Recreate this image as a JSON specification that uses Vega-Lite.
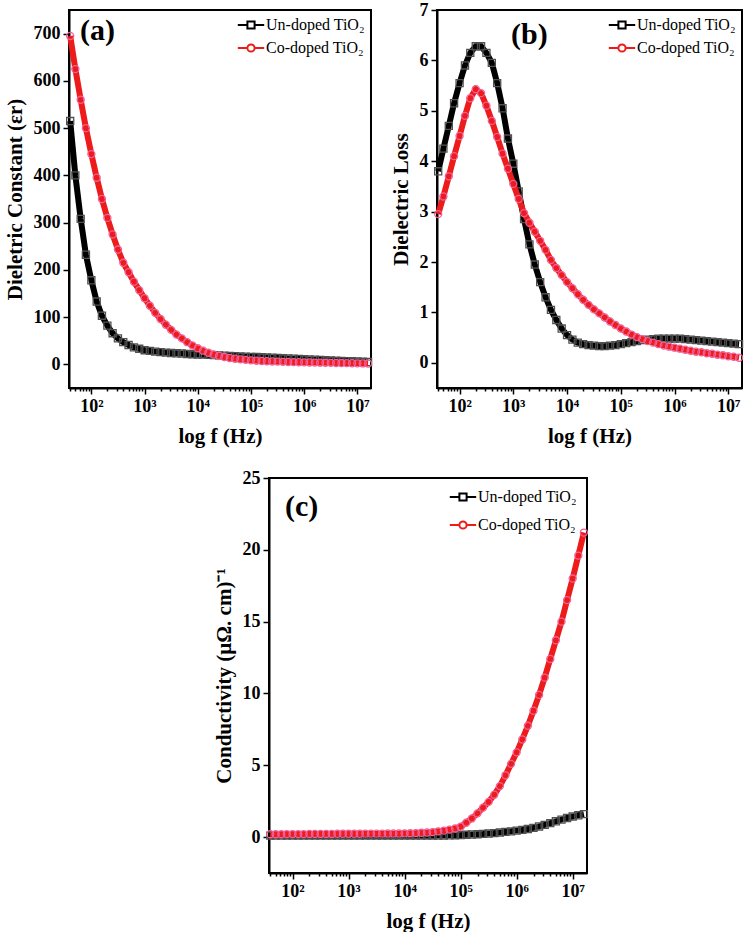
{
  "$schema": "https://vega.github.io/schema/vega-lite/v6.json",
  "padding": {"left": 3, "top": 0, "right": 0, "bottom": 0},
  "config": {
    "font": "Liberation Serif",
    "view": {"stroke": "black", "strokeWidth": 2},
    "axis": {"labelFont": "Liberation Serif", "labelFontSize": 18, "labelFontWeight": "bold", "labelColor": "black", "titleFont": "Liberation Serif", "titleFontSize": 21, "titleFontWeight": "bold", "titleColor": "black", "domainColor": "black", "domainWidth": 2, "tickColor": "black", "tickWidth": 1.5, "grid": false, "labelPadding": 3},
    "axisX": {"titlePadding": 10},
    "axisY": {"titlePadding": 8},
    "legend": {"orient": "top-right", "offset": 6, "padding": 0, "labelFont": "Liberation Serif", "labelFontSize": 16, "labelColor": "black", "symbolSize": 256, "symbolStrokeWidth": 2, "labelOffset": 6, "rowPadding": 6},
    "title": {"font": "Liberation Serif", "fontWeight": "bold", "color": "black", "fontSize": 30, "anchor": "start", "frame": "group", "baseline": "alphabetic"}
  },
  "datasets": {
    "d": [
      {"f": 40, "au": 515, "ac": 695, "bu": 3.80, "bc": 2.95, "cu": 0.10, "cc": 0.20},
      {"f": 50, "au": 400, "ac": 625, "bu": 4.25, "bc": 3.30, "cu": 0.10, "cc": 0.20},
      {"f": 63, "au": 308, "ac": 560, "bu": 4.70, "bc": 3.70, "cu": 0.10, "cc": 0.20},
      {"f": 79, "au": 232, "ac": 500, "bu": 5.15, "bc": 4.10, "cu": 0.10, "cc": 0.21},
      {"f": 100, "au": 178, "ac": 445, "bu": 5.55, "bc": 4.50, "cu": 0.10, "cc": 0.21},
      {"f": 126, "au": 133, "ac": 395, "bu": 5.90, "bc": 4.90, "cu": 0.10, "cc": 0.21},
      {"f": 158, "au": 103, "ac": 350, "bu": 6.15, "bc": 5.25, "cu": 0.10, "cc": 0.21},
      {"f": 200, "au": 82, "ac": 310, "bu": 6.28, "bc": 5.43, "cu": 0.10, "cc": 0.22},
      {"f": 251, "au": 66, "ac": 275, "bu": 6.28, "bc": 5.35, "cu": 0.10, "cc": 0.22},
      {"f": 316, "au": 55, "ac": 243, "bu": 6.15, "bc": 5.10, "cu": 0.10, "cc": 0.22},
      {"f": 398, "au": 47, "ac": 215, "bu": 5.95, "bc": 4.80, "cu": 0.10, "cc": 0.22},
      {"f": 501, "au": 41, "ac": 195, "bu": 5.55, "bc": 4.48, "cu": 0.10, "cc": 0.22},
      {"f": 631, "au": 36, "ac": 175, "bu": 5.05, "bc": 4.15, "cu": 0.10, "cc": 0.23},
      {"f": 794, "au": 33, "ac": 157, "bu": 4.45, "bc": 3.85, "cu": 0.10, "cc": 0.23},
      {"f": 1000, "au": 30, "ac": 140, "bu": 3.95, "bc": 3.55, "cu": 0.10, "cc": 0.23},
      {"f": 1259, "au": 28.5, "ac": 124, "bu": 3.40, "bc": 3.25, "cu": 0.10, "cc": 0.23},
      {"f": 1585, "au": 27, "ac": 109, "bu": 2.85, "bc": 2.97, "cu": 0.10, "cc": 0.23},
      {"f": 1995, "au": 26, "ac": 96, "bu": 2.35, "bc": 2.78, "cu": 0.10, "cc": 0.24},
      {"f": 2512, "au": 25, "ac": 84, "bu": 1.95, "bc": 2.60, "cu": 0.10, "cc": 0.24},
      {"f": 3162, "au": 24, "ac": 73, "bu": 1.60, "bc": 2.42, "cu": 0.10, "cc": 0.24},
      {"f": 3981, "au": 23.5, "ac": 63, "bu": 1.30, "bc": 2.24, "cu": 0.10, "cc": 0.24},
      {"f": 5012, "au": 23, "ac": 55, "bu": 1.05, "bc": 2.04, "cu": 0.10, "cc": 0.25},
      {"f": 6310, "au": 22, "ac": 47, "bu": 0.85, "bc": 1.88, "cu": 0.10, "cc": 0.25},
      {"f": 7943, "au": 21.5, "ac": 40, "bu": 0.68, "bc": 1.74, "cu": 0.10, "cc": 0.25},
      {"f": 10000, "au": 21, "ac": 34, "bu": 0.55, "bc": 1.60, "cu": 0.10, "cc": 0.26},
      {"f": 12589, "au": 20.5, "ac": 29, "bu": 0.46, "bc": 1.48, "cu": 0.10, "cc": 0.27},
      {"f": 15849, "au": 20, "ac": 24.5, "bu": 0.40, "bc": 1.36, "cu": 0.10, "cc": 0.28},
      {"f": 19953, "au": 19.5, "ac": 21, "bu": 0.37, "bc": 1.25, "cu": 0.10, "cc": 0.30},
      {"f": 25119, "au": 19, "ac": 18, "bu": 0.35, "bc": 1.15, "cu": 0.10, "cc": 0.32},
      {"f": 31623, "au": 18.5, "ac": 15.5, "bu": 0.34, "bc": 1.06, "cu": 0.10, "cc": 0.35},
      {"f": 39811, "au": 18, "ac": 13.5, "bu": 0.33, "bc": 0.98, "cu": 0.11, "cc": 0.40},
      {"f": 50119, "au": 17.5, "ac": 12, "bu": 0.33, "bc": 0.90, "cu": 0.11, "cc": 0.45},
      {"f": 63096, "au": 17, "ac": 10.5, "bu": 0.34, "bc": 0.82, "cu": 0.12, "cc": 0.52},
      {"f": 79433, "au": 16.5, "ac": 9.5, "bu": 0.35, "bc": 0.75, "cu": 0.13, "cc": 0.60},
      {"f": 100000, "au": 16, "ac": 8.5, "bu": 0.37, "bc": 0.68, "cu": 0.14, "cc": 0.72},
      {"f": 125893, "au": 15.5, "ac": 7.8, "bu": 0.39, "bc": 0.62, "cu": 0.16, "cc": 1.00},
      {"f": 158489, "au": 15, "ac": 7.2, "bu": 0.41, "bc": 0.56, "cu": 0.18, "cc": 1.30},
      {"f": 199526, "au": 14.5, "ac": 6.7, "bu": 0.43, "bc": 0.51, "cu": 0.20, "cc": 1.65},
      {"f": 251189, "au": 14, "ac": 6.2, "bu": 0.45, "bc": 0.47, "cu": 0.22, "cc": 2.05},
      {"f": 316228, "au": 13.5, "ac": 5.8, "bu": 0.46, "bc": 0.43, "cu": 0.25, "cc": 2.45},
      {"f": 398107, "au": 13, "ac": 5.4, "bu": 0.47, "bc": 0.40, "cu": 0.28, "cc": 2.95},
      {"f": 501187, "au": 12.5, "ac": 5.1, "bu": 0.48, "bc": 0.37, "cu": 0.32, "cc": 3.55},
      {"f": 630957, "au": 12, "ac": 4.8, "bu": 0.48, "bc": 0.34, "cu": 0.36, "cc": 4.30},
      {"f": 794328, "au": 11.5, "ac": 4.5, "bu": 0.48, "bc": 0.32, "cu": 0.40, "cc": 5.10},
      {"f": 1000000, "au": 11, "ac": 4.3, "bu": 0.48, "bc": 0.30, "cu": 0.45, "cc": 5.90},
      {"f": 1258925, "au": 10.5, "ac": 4.0, "bu": 0.48, "bc": 0.28, "cu": 0.50, "cc": 6.80},
      {"f": 1584893, "au": 10, "ac": 3.8, "bu": 0.47, "bc": 0.26, "cu": 0.56, "cc": 7.75},
      {"f": 1995262, "au": 9.5, "ac": 3.6, "bu": 0.46, "bc": 0.24, "cu": 0.64, "cc": 8.80},
      {"f": 2511886, "au": 9, "ac": 3.4, "bu": 0.45, "bc": 0.22, "cu": 0.74, "cc": 9.90},
      {"f": 3162278, "au": 8.5, "ac": 3.2, "bu": 0.44, "bc": 0.21, "cu": 0.85, "cc": 11.1},
      {"f": 3981072, "au": 8, "ac": 3.0, "bu": 0.43, "bc": 0.19, "cu": 0.97, "cc": 12.4},
      {"f": 5011872, "au": 7.5, "ac": 2.8, "bu": 0.42, "bc": 0.18, "cu": 1.10, "cc": 13.7},
      {"f": 6309573, "au": 7, "ac": 2.6, "bu": 0.41, "bc": 0.16, "cu": 1.22, "cc": 15.0},
      {"f": 7943282, "au": 6.5, "ac": 2.4, "bu": 0.40, "bc": 0.15, "cu": 1.33, "cc": 16.5},
      {"f": 10000000, "au": 6, "ac": 2.2, "bu": 0.39, "bc": 0.13, "cu": 1.43, "cc": 18.0},
      {"f": 12589254, "au": 5.5, "ac": 2.0, "bu": 0.38, "bc": 0.12, "cu": 1.52, "cc": 19.6},
      {"f": 15848932, "au": 5, "ac": 1.8, "bu": 0.37, "bc": 0.10, "cu": 1.60, "cc": 21.2}
    ]
  },
  "spacing": 21,
  "resolve": {"scale": {"color": "independent"}, "legend": {"color": "independent"}},
  "vconcat": [
    {
      "bounds": "flush",
      "spacing": 66,
      "resolve": {"scale": {"color": "independent"}, "legend": {"color": "independent"}},
      "hconcat": [
        {
          "width": 302, "height": 378,
          "title": {"text": "(a)", "dx": 11, "offset": -36},
          "data": {"name": "d"},
          "encoding": {
            "x": {"field": "f", "type": "quantitative", "title": "log f (Hz)",
              "scale": {"type": "log", "domain": [38, 18000000], "nice": false},
              "axis": {"values": [40,50,60,70,80,90,100,200,300,400,500,600,700,800,900,1000,2000,3000,4000,5000,6000,7000,8000,9000,10000,20000,30000,40000,50000,60000,70000,80000,90000,100000,200000,300000,400000,500000,600000,700000,800000,900000,1000000,2000000,3000000,4000000,5000000,6000000,7000000,8000000,9000000,10000000],
                "labelExpr": "datum.value == 100 ? '10²' : datum.value == 1000 ? '10³' : datum.value == 10000 ? '10⁴' : datum.value == 100000 ? '10⁵' : datum.value == 1000000 ? '10⁶' : datum.value == 10000000 ? '10⁷' : ''",
                "tickSize": {"condition": {"test": "indexof([100,1000,10000,100000,1000000,10000000], datum.value) >= 0", "value": 6}, "value": 3},
                "labelOverlap": false, "labelFlush": false}}
          },
          "layer": [
            {"mark": {"type": "line", "strokeWidth": 6},
             "encoding": {
               "y": {"field": "au", "type": "quantitative", "title": "Dieletric Constant (εr)",
                 "scale": {"domain": [-50, 750], "nice": false, "zero": false},
                 "axis": {"values": [0,50,100,150,200,250,300,350,400,450,500,550,600,650,700], "labelExpr": "datum.value % 100 == 0 ? datum.label : ''", "tickSize": {"condition": {"test": "datum.value % 100 == 0", "value": 6}, "value": 3}}},
               "color": {"datum": "Un-doped TiO₂", "scale": {"domain": ["Un-doped TiO₂", "Co-doped TiO₂"], "range": ["#000000", "#ee1b1b"]},
                 "legend": {"title": null, "symbolType": {"expr": "indexof(datum.value, 'Un') == 0 ? 'M-1.65,0L-0.45,0M0.45,0L1.65,0M-0.45,-0.45L0.45,-0.45L0.45,0.45L-0.45,0.45Z' : 'M-1.65,0L-0.45,0M0.45,0L1.65,0M0.45,0A0.45,0.45,0,1,1,-0.45,0A0.45,0.45,0,1,1,0.45,0Z'"}}}
             }},
            {"mark": {"type": "point", "shape": "square", "filled": false, "stroke": "#505050", "strokeWidth": 1.3, "size": 50, "opacity": 1},
             "encoding": {"y": {"field": "au", "type": "quantitative", "title": "Dieletric Constant (εr)"}}},
            {"mark": {"type": "line", "strokeWidth": 6},
             "encoding": {
               "y": {"field": "ac", "type": "quantitative", "title": "Dieletric Constant (εr)"},
               "color": {"datum": "Co-doped TiO₂"}}},
            {"mark": {"type": "point", "shape": "circle", "filled": false, "stroke": "#f0609a", "strokeWidth": 1.3, "size": 50, "opacity": 1},
             "encoding": {"y": {"field": "ac", "type": "quantitative", "title": "Dieletric Constant (εr)"}}}
          ]
        },
        {
          "width": 305, "height": 378,
          "title": {"text": "(b)", "dx": 74, "offset": -49},
          "data": {"name": "d"},
          "encoding": {
            "x": {"field": "f", "type": "quantitative", "title": "log f (Hz)",
              "scale": {"type": "log", "domain": [38, 18000000], "nice": false},
              "axis": {"values": [40,50,60,70,80,90,100,200,300,400,500,600,700,800,900,1000,2000,3000,4000,5000,6000,7000,8000,9000,10000,20000,30000,40000,50000,60000,70000,80000,90000,100000,200000,300000,400000,500000,600000,700000,800000,900000,1000000,2000000,3000000,4000000,5000000,6000000,7000000,8000000,9000000,10000000],
                "labelExpr": "datum.value == 100 ? '10²' : datum.value == 1000 ? '10³' : datum.value == 10000 ? '10⁴' : datum.value == 100000 ? '10⁵' : datum.value == 1000000 ? '10⁶' : datum.value == 10000000 ? '10⁷' : ''",
                "tickSize": {"condition": {"test": "indexof([100,1000,10000,100000,1000000,10000000], datum.value) >= 0", "value": 6}, "value": 3},
                "labelOverlap": false, "labelFlush": false}}
          },
          "layer": [
            {"mark": {"type": "line", "strokeWidth": 6},
             "encoding": {
               "y": {"field": "bu", "type": "quantitative", "title": "Dielectric Loss",
                 "scale": {"domain": [-0.5, 7], "nice": false, "zero": false},
                 "axis": {"values": [0,0.5,1,1.5,2,2.5,3,3.5,4,4.5,5,5.5,6,6.5,7], "labelExpr": "datum.value % 1 == 0 ? datum.label : ''", "tickSize": {"condition": {"test": "datum.value % 1 == 0", "value": 6}, "value": 3}}},
               "color": {"datum": "Un-doped TiO₂", "scale": {"domain": ["Un-doped TiO₂", "Co-doped TiO₂"], "range": ["#000000", "#ee1b1b"]},
                 "legend": {"title": null, "symbolType": {"expr": "indexof(datum.value, 'Un') == 0 ? 'M-1.65,0L-0.45,0M0.45,0L1.65,0M-0.45,-0.45L0.45,-0.45L0.45,0.45L-0.45,0.45Z' : 'M-1.65,0L-0.45,0M0.45,0L1.65,0M0.45,0A0.45,0.45,0,1,1,-0.45,0A0.45,0.45,0,1,1,0.45,0Z'"}}}
             }},
            {"mark": {"type": "point", "shape": "square", "filled": false, "stroke": "#505050", "strokeWidth": 1.3, "size": 50, "opacity": 1},
             "encoding": {"y": {"field": "bu", "type": "quantitative", "title": "Dielectric Loss"}}},
            {"mark": {"type": "line", "strokeWidth": 6},
             "encoding": {
               "y": {"field": "bc", "type": "quantitative", "title": "Dielectric Loss"},
               "color": {"datum": "Co-doped TiO₂"}}},
            {"mark": {"type": "point", "shape": "circle", "filled": false, "stroke": "#f0609a", "strokeWidth": 1.3, "size": 50, "opacity": 1},
             "encoding": {"y": {"field": "bc", "type": "quantitative", "title": "Dielectric Loss"}}}
          ]
        }
      ]
    },
    {
      "bounds": "flush",
      "spacing": 0,
      "resolve": {"scale": {"color": "independent"}, "legend": {"color": "independent"}},
      "hconcat": [
        {"width": 200, "height": 10, "data": {"values": [{"s": ""}]}, "mark": {"type": "text"}, "encoding": {"text": {"field": "s"}}, "view": {"stroke": null}},
        {
          "width": 318, "height": 395,
          "title": {"text": "(c)", "dx": 16, "offset": -53},
          "data": {"name": "d"},
          "encoding": {
            "x": {"field": "f", "type": "quantitative", "title": "log f (Hz)",
              "scale": {"type": "log", "domain": [38, 18000000], "nice": false},
              "axis": {"values": [40,50,60,70,80,90,100,200,300,400,500,600,700,800,900,1000,2000,3000,4000,5000,6000,7000,8000,9000,10000,20000,30000,40000,50000,60000,70000,80000,90000,100000,200000,300000,400000,500000,600000,700000,800000,900000,1000000,2000000,3000000,4000000,5000000,6000000,7000000,8000000,9000000,10000000],
                "labelExpr": "datum.value == 100 ? '10²' : datum.value == 1000 ? '10³' : datum.value == 10000 ? '10⁴' : datum.value == 100000 ? '10⁵' : datum.value == 1000000 ? '10⁶' : datum.value == 10000000 ? '10⁷' : ''",
                "tickSize": {"condition": {"test": "indexof([100,1000,10000,100000,1000000,10000000], datum.value) >= 0", "value": 6}, "value": 3},
                "labelOverlap": false, "labelFlush": false}}
          },
          "layer": [
            {"mark": {"type": "line", "strokeWidth": 6},
             "encoding": {
               "y": {"field": "cu", "type": "quantitative", "title": "Conductivity (µΩ. cm)⁻¹",
                 "scale": {"domain": [-2.5, 25], "nice": false, "zero": false},
                 "axis": {"values": [0,2.5,5,7.5,10,12.5,15,17.5,20,22.5,25], "labelExpr": "datum.value % 5 == 0 ? datum.label : ''", "tickSize": {"condition": {"test": "datum.value % 5 == 0", "value": 6}, "value": 3}}},
               "color": {"datum": "Un-doped TiO₂", "scale": {"domain": ["Un-doped TiO₂", "Co-doped TiO₂"], "range": ["#000000", "#ee1b1b"]},
                 "legend": {"title": null, "padding": 4, "rowPadding": 11, "symbolType": {"expr": "indexof(datum.value, 'Un') == 0 ? 'M-1.65,0L-0.45,0M0.45,0L1.65,0M-0.45,-0.45L0.45,-0.45L0.45,0.45L-0.45,0.45Z' : 'M-1.65,0L-0.45,0M0.45,0L1.65,0M0.45,0A0.45,0.45,0,1,1,-0.45,0A0.45,0.45,0,1,1,0.45,0Z'"}}}
             }},
            {"mark": {"type": "point", "shape": "square", "filled": false, "stroke": "#505050", "strokeWidth": 1.3, "size": 50, "opacity": 1},
             "encoding": {"y": {"field": "cu", "type": "quantitative", "title": "Conductivity (µΩ. cm)⁻¹"}}},
            {"mark": {"type": "line", "strokeWidth": 6},
             "encoding": {
               "y": {"field": "cc", "type": "quantitative", "title": "Conductivity (µΩ. cm)⁻¹"},
               "color": {"datum": "Co-doped TiO₂"}}},
            {"mark": {"type": "point", "shape": "circle", "filled": false, "stroke": "#f0609a", "strokeWidth": 1.3, "size": 50, "opacity": 1},
             "encoding": {"y": {"field": "cc", "type": "quantitative", "title": "Conductivity (µΩ. cm)⁻¹"}}}
          ]
        }
      ]
    }
  ]
}
